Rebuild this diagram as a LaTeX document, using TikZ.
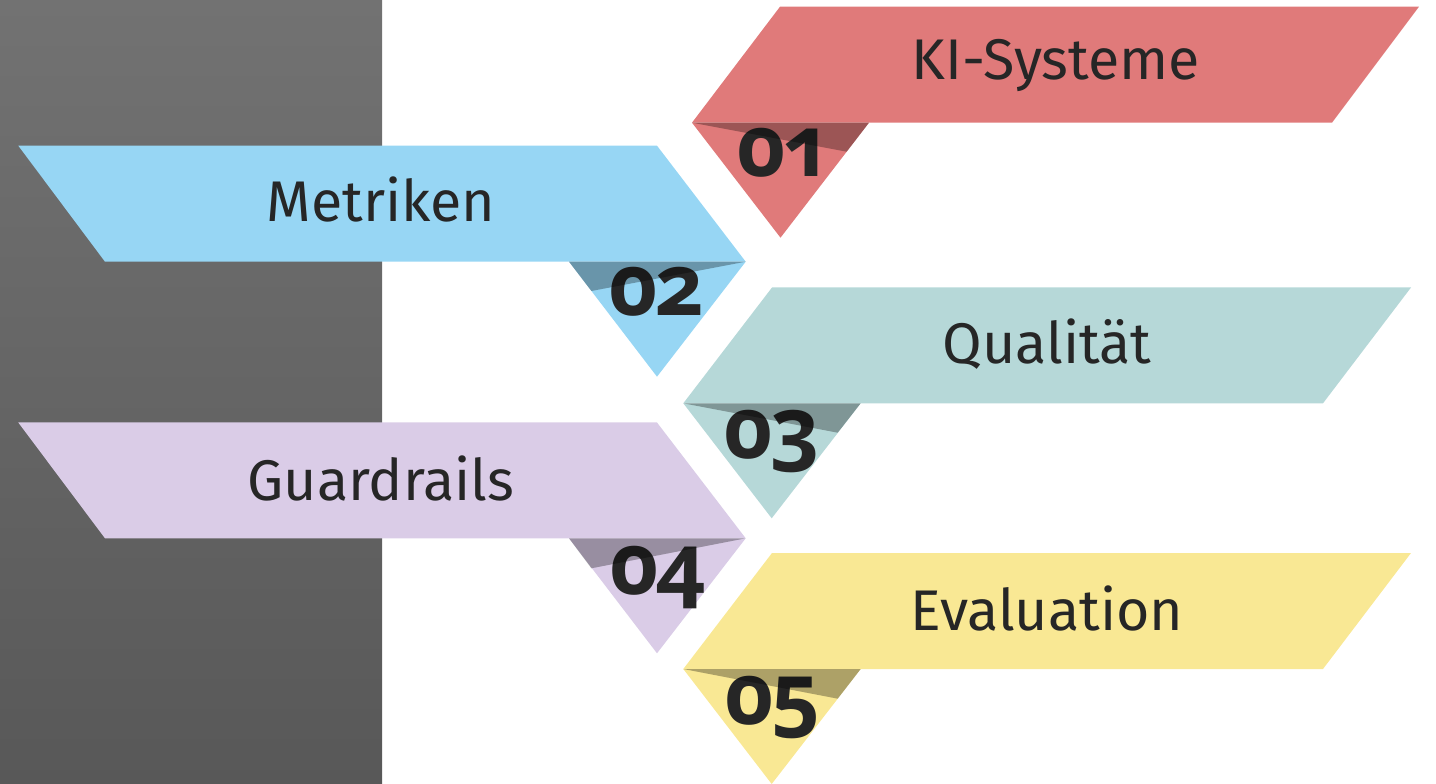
\documentclass[tikz,border=0pt]{standalone}
\usepackage{fontspec}
\setmainfont{Fira Sans}
\newfontfamily\numfont[Numbers=OldStyle,LetterSpace=-5]{Open Sans}
\definecolor{cred}{RGB}{224,122,122}
\definecolor{cblue}{RGB}{151,214,244}
\definecolor{cteal}{RGB}{182,216,216}
\definecolor{cpurple}{RGB}{218,204,231}
\definecolor{cyellow}{RGB}{249,232,148}
\definecolor{ctext}{RGB}{38,38,38}
\definecolor{gtop}{RGB}{114,114,114}
\definecolor{gbot}{RGB}{88,88,88}
\tikzset{
  lbl/.style={text=ctext, anchor=base, inner sep=0pt, font=\fontsize{43}{50}\selectfont},
  num/.style={text=ctext, anchor=base, inner sep=0pt, font=\numfont\bfseries\fontsize{64}{70}\selectfont},
  shadowfill/.style={fill=black, fill opacity=0.3}
}
\begin{document}
\begin{tikzpicture}[x=0.75pt,y=-0.75pt]
\useasboundingbox (0,0) rectangle (1436,784);
% gray side panel
\shade[top color=gtop, bottom color=gbot] (0,0) rectangle (382,784);

% ribbon 1 (red)
\fill[cred] (692,122.7) -- (869,122.7) -- (780.5,237.7) -- cycle;
\fill[cred] (780,6.7) -- (1419,6.7) -- (1332,122.7) -- (692,122.7) -- cycle;
\node[lbl] (l1) at (1056,80) {KI-Systeme};
\node[num] (n1) at (780.5,177) {01};
\fill[shadowfill] (692,122.7) -- (869,122.7) -- (846.7,151.7) -- cycle;

% ribbon 2 (blue)
\fill[cblue] (569,261.7) -- (745.7,261.7) -- (657,376.7) -- cycle;
\fill[cblue] (18.3,145.7) -- (657,145.7) -- (745.7,261.7) -- (105,261.7) -- cycle;
\node[lbl] (l2) at (381,222) {Metriken};
\node[num] (n2) at (656,316) {02};
\fill[shadowfill] (569,261.7) -- (745.7,261.7) -- (591.4,291) -- cycle;

% ribbon 3 (teal)
\fill[cteal] (683.3,403.3) -- (860.7,403.3) -- (771.7,518.3) -- cycle;
\fill[cteal] (772,287.5) -- (1411,287.5) -- (1323,403.3) -- (683.3,403.3) -- cycle;
\node[lbl] (l3) at (1047,364) {Qualität};
\node[num] (n3) at (771,458) {03};
\fill[shadowfill] (683.3,403.3) -- (860.7,403.3) -- (837.7,432.7) -- cycle;

% ribbon 4 (purple)
\fill[cpurple] (569,538.3) -- (745.7,538.3) -- (657,653.3) -- cycle;
\fill[cpurple] (18.3,422.5) -- (657,422.5) -- (745.7,538.3) -- (105,538.3) -- cycle;
\node[lbl] (l4) at (381,500) {Guardrails};
\node[num] (n4) at (657,594) {04};
\fill[shadowfill] (569,538.3) -- (745.7,538.3) -- (591.4,568.3) -- cycle;

% ribbon 5 (yellow)
\fill[cyellow] (683.3,669) -- (860.7,669) -- (771.7,784) -- cycle;
\fill[cyellow] (772,553) -- (1411,553) -- (1323,669) -- (683.3,669) -- cycle;
\node[lbl] (l5) at (1047,630) {Evaluation};
\node[num] (n5) at (772,724) {05};
\fill[shadowfill] (683.3,669) -- (860.7,669) -- (837.7,698.7) -- cycle;
\end{tikzpicture}
\end{document}
